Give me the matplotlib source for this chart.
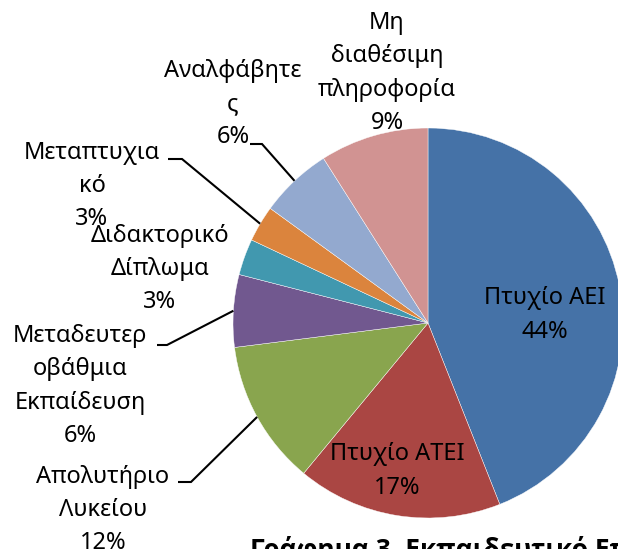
import numpy as np
import matplotlib
matplotlib.use('Agg')
import matplotlib.pyplot as plt

plt.rcParams['font.family'] = ['Noto Sans', 'DejaVu Sans']

# data (clockwise from 12 o'clock)
labels = ['Πτυχίο ΑΕΙ', 'Πτυχίο ΑΤΕΙ', 'Απολυτήριο\nΛυκείου', 'Μεταδευτερ\nοβάθμια\nΕκπαίδευση',
          'Διδακτορικό\nΔίπλωμα', 'Μεταπτυχια\nκό', 'Αναλφάβητε\nς', 'Μη\nδιαθέσιμη\nπληροφορία']
values = [44, 17, 12, 6, 3, 3, 6, 9]
colors = ['#4572A7', '#AA4643', '#89A54E', '#71588F', '#4198AF', '#DB843D', '#93A9CF', '#D19392']
title = 'Γράφημα 3. Εκπαιδευτικό Επίπεδο'

W, H = 618, 549
fig = plt.figure(figsize=(W / 100, H / 100), dpi=100)
ax = fig.add_axes([0, 0, 1, 1])

def px(x, y):
    # image pixel coords -> data coords
    return x, H - y

cx, cy = px(428, 323)
R = 195
wedges, _ = ax.pie(values, colors=colors, startangle=90, counterclock=False,
                   center=(cx, cy), radius=R,
                   wedgeprops=dict(edgecolor='white', linewidth=0.3))

# label layout: text centre, and for outside labels the elbow + line end
layout = {
    0: dict(text=(545, 315)),
    1: dict(text=(397, 471)),
    2: dict(text=(103, 510), end=(178, 482), elbow=(191, 482)),
    3: dict(text=(80, 386), end=(157, 345), elbow=(167, 345)),
    4: dict(text=(160, 269)),
    5: dict(text=(92, 186), end=(168, 159), elbow=(182, 159)),
    6: dict(text=(233, 104), end=(250, 144), elbow=(262, 144)),
    7: dict(text=(387, 73)),
}

fs = 17
for i, w in enumerate(wedges):
    pct = '%d%%' % values[i]
    lay = layout[i]
    tx, ty = px(*lay['text'])
    ax.text(tx, ty, labels[i] + '\n' + pct, ha='center', va='center',
            fontsize=fs, linespacing=1.52, color='black')
    if 'end' in lay:
        ang = np.deg2rad((w.theta1 + w.theta2) / 2)
        ax_, ay_ = cx + R * np.cos(ang), cy + R * np.sin(ang)
        ex, ey = px(*lay['end'])
        bx, by = px(*lay['elbow'])
        ax.plot([ex, bx, ax_], [ey, by, ay_], color='black', lw=1.5,
                solid_capstyle='butt', solid_joinstyle='miter')

ax.text(*px(250, 536), title, ha='left', va='top', fontsize=19,
        fontweight='bold', family=['Open Sans', 'DejaVu Sans'])

ax.set_xlim(0, W)
ax.set_ylim(0, H)
ax.set_aspect('equal')
ax.axis('off')

fig.savefig('out.png', dpi=100)
